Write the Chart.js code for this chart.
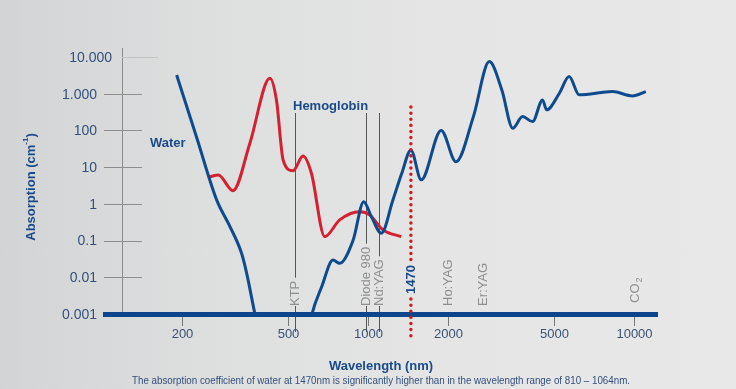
<!DOCTYPE html>
<html>
<head>
<meta charset="utf-8">
<script src="https://cdn.jsdelivr.net/npm/chart.js@4.4.1/dist/chart.umd.min.js"></script>
<style>
html, body { margin:0; padding:0; }
body { width:736px; height:389px; overflow:hidden;
  background: linear-gradient(90deg, #d3d4d5 0%, #dedfdf 30%, #e5e5e5 60%, #e8e8e8 100%); }
canvas { display:block; }
</style>
</head>
<body>
<canvas id="grafica" width="736" height="389"></canvas>
<script>
// datos (nm, cm-1)
var agua_nm  = [191, 227, 270, 303, 335, 350, 376, 395, 590, 616, 670, 739, 783, 880, 964, 1030, 1122, 1241, 1340, 1450, 1585, 1884, 2143, 2490, 2858, 3185, 3500, 3810, 4155, 4530, 4690, 5240, 5700, 6220, 8300, 9860, 11070]
var agua_abs = [3240, 65, 1.28, 0.24, 0.045, 0.013, 0.001, 0.0002, 0.0002, 0.001, 0.0055, 0.0295, 0.024, 0.104, 1.15, 0.45, 0.158, 1.28, 6.8, 29, 4.5, 100, 14, 238, 7500, 1265, 115, 238, 174, 676, 363, 1030, 2930, 930, 1140, 870, 1140]

var hemo_nm  = [255, 274, 311, 360, 428, 453, 480, 523, 570, 613, 688, 783, 931, 1014, 1138, 1334]
var hemo_abs = [5.5, 6.1, 2.29, 45, 2650, 676, 15.7, 8.0, 20, 6.8, 0.128, 0.365, 0.61, 0.5, 0.195, 0.128]

var x_ticks = [200, 500, 1000, 2000, 5000, 10000]
var x_labels = ["200", "500", "1000", "2000", "5000", "10000"]
var y_ticks = [0.001, 0.01, 0.1, 1, 10, 100, 1000, 10000]
var y_labels = ["0.001", "0.01", "0.1", "1", "10", "100", "1.000", "10.000"]

var laser_nm = [532, 980, 1100, 1450, 2000, 2700, 10100]
var laser_labels = ["KTP", "Diode 980", "Nd:YAG", "1470", "Ho:YAG", "Er:YAG", "CO"]

var azul = '#0d4a8e'
var rojo = '#d42030'
var fuente = "'Liberation Sans', Arial, sans-serif"

function puntos(xs, ys){
    var p = []
    for (var i = 0; i < xs.length; i++) p.push({x: xs[i], y: ys[i]})
    return p
}

var decoracion = {
    id: 'decoracion',
    beforeDatasetsDraw: function(chart){
        var ctx = chart.ctx
        var xs = chart.scales.x, ys = chart.scales.y
        var a = chart.chartArea
        ctx.save()
        // eje vertical
        ctx.strokeStyle = '#8a8a8a'
        ctx.lineWidth = 1
        ctx.beginPath()
        ctx.moveTo(a.left + 19.5, a.top)
        ctx.lineTo(a.left + 19.5, a.bottom)
        ctx.stroke()
        // marcas y etiquetas del eje y
        ctx.font = '14px ' + fuente
        ctx.fillStyle = '#34507c'
        ctx.textAlign = 'right'
        ctx.textBaseline = 'middle'
        for (var i = 0; i < y_ticks.length; i++){
            var py = Math.round(ys.getPixelForValue(y_ticks[i])) + 0.5
            if (i == 0) continue
            ctx.strokeStyle = '#8e8e8e'
            ctx.beginPath()
            if (i == y_ticks.length - 1){
                ctx.strokeStyle = '#c4c4c4'
                ctx.moveTo(a.left + 19, py); ctx.lineTo(a.left + 55, py)
            } else {
                ctx.moveTo(a.left + 1, py); ctx.lineTo(a.left + 39, py)
            }
            ctx.stroke()
        }
        for (var i = 0; i < y_ticks.length; i++){
            var py = ys.getPixelForValue(y_ticks[i])
            var lx = (i == y_ticks.length - 1) ? a.left + 9 : a.left - 6
            ctx.fillText(y_labels[i], lx, py + 1)
        }
        // lineas de los laser
        ctx.strokeStyle = '#555'
        ctx.lineWidth = 1
        ctx.font = '13px ' + fuente
        for (var i = 0; i < 3; i++){
            var px = Math.round(xs.getPixelForValue(laser_nm[i])) + 0.5
            var w = ctx.measureText(laser_labels[i]).width
            ctx.beginPath()
            ctx.moveTo(px, 113); ctx.lineTo(px, 305 - w - 2)
            ctx.moveTo(px, 306); ctx.lineTo(px, a.bottom + 18)
            ctx.stroke()
        }
        ctx.restore()
    },
    afterDatasetsDraw: function(chart){
        var ctx = chart.ctx
        var xs = chart.scales.x, ys = chart.scales.y
        var a = chart.chartArea
        ctx.save()
        // eje x grueso
        ctx.fillStyle = '#0b468c'
        ctx.fillRect(a.left, a.bottom - 2, a.right - a.left, 5)
        // marcas y etiquetas del eje x
        ctx.strokeStyle = '#777'
        ctx.lineWidth = 1
        ctx.font = '13px ' + fuente
        ctx.fillStyle = '#3b5275'
        ctx.textAlign = 'center'
        ctx.textBaseline = 'middle'
        for (var i = 0; i < x_ticks.length; i++){
            var px = Math.round(xs.getPixelForValue(x_ticks[i])) + 0.5
            ctx.beginPath()
            ctx.moveTo(px, a.bottom + 3); ctx.lineTo(px, a.bottom + 12)
            ctx.stroke()
            ctx.fillText(x_labels[i], px, a.bottom + 20)
        }
        // linea punteada 1470
        var p14 = xs.getPixelForValue(laser_nm[3])
        ctx.font = 'bold 13px ' + fuente
        var w14 = ctx.measureText(laser_labels[3]).width
        ctx.strokeStyle = '#cc1a22'
        ctx.lineWidth = 3.4
        ctx.lineCap = 'round'
        ctx.setLineDash([0.1, 6])
        ctx.beginPath()
        ctx.moveTo(p14, 107); ctx.lineTo(p14, 294 - w14 - 4)
        ctx.moveTo(p14, 299); ctx.lineTo(p14, a.bottom + 25)
        ctx.stroke()
        ctx.setLineDash([])
        // etiquetas rotadas
        for (var i = 0; i < laser_nm.length; i++){
            var px = xs.getPixelForValue(laser_nm[i])
            var base = 306
            ctx.save()
            if (i == 3){
                ctx.font = 'bold 13px ' + fuente
                ctx.fillStyle = '#1b4a8a'
                base = 294
            } else {
                ctx.font = '13px ' + fuente
                ctx.fillStyle = '#8e8e8e'
            }
            if (i == 6) base = 303
            ctx.translate(px + 0.5, base)
            ctx.rotate(-Math.PI / 2)
            ctx.textAlign = 'left'
            ctx.textBaseline = 'middle'
            ctx.fillText(laser_labels[i], 0, 0)
            if (i == 6){
                var wc = ctx.measureText('CO').width
                ctx.font = '9px ' + fuente
                ctx.fillText('2', wc + 1, 4)
            }
            ctx.restore()
        }
        // nombres de curvas
        ctx.font = 'bold 13px ' + fuente
        ctx.fillStyle = '#1b4a8a'
        ctx.textAlign = 'left'
        ctx.fillText('Water', 150, 143)
        ctx.fillText('Hemoglobin', 293, 106)
        // titulos
        ctx.textAlign = 'center'
        ctx.fillText('Wavelength (nm)', 381, 366)
        ctx.save()
        ctx.translate(31, 187)
        ctx.rotate(-Math.PI / 2)
        var tt = 'Absorption (cm'
        var w1 = ctx.measureText(tt).width
        var w2 = ctx.measureText(')').width
        ctx.font = 'bold 8px ' + fuente
        var ws = ctx.measureText('-1').width
        var total = w1 + ws + w2
        ctx.textAlign = 'left'
        ctx.font = 'bold 13px ' + fuente
        ctx.fillText(tt, -total / 2, 0)
        ctx.fillText(')', -total / 2 + w1 + ws, 0)
        ctx.font = 'bold 8px ' + fuente
        ctx.fillText('-1', -total / 2 + w1, -5)
        ctx.restore()
        // nota
        var nota = 'The absorption coefficient of water at 1470nm is significantly higher than in the wavelength range of 810 \u2013 1064nm.'
        ctx.font = '11px ' + fuente
        ctx.fillStyle = '#34507c'
        var wn = ctx.measureText(nota).width
        ctx.save()
        ctx.translate(381, 381)
        ctx.scale(498 / wn, 1)
        ctx.fillText(nota, 0, 0)
        ctx.restore()
        ctx.restore()
    }
}

new Chart(document.getElementById('grafica'), {
    type: 'line',
    data: {
        datasets: [
            {
                label: 'Water',
                data: puntos(agua_nm, agua_abs),
                borderColor: azul,
                borderWidth: 3,
                pointRadius: 0,
                cubicInterpolationMode: 'monotone',
                fill: false
            },
            {
                label: 'Hemoglobin',
                data: puntos(hemo_nm, hemo_abs),
                borderColor: rojo,
                borderWidth: 3,
                pointRadius: 0,
                cubicInterpolationMode: 'monotone',
                fill: false
            }
        ]
    },
    options: {
        responsive: false,
        animation: false,
        devicePixelRatio: 1,
        layout: { padding: { left: 103, right: 78, top: 48, bottom: 75 } },
        plugins: { legend: { display: false }, tooltip: { enabled: false } },
        scales: {
            x: { type: 'logarithmic', min: 101, max: 12300, display: false },
            y: { type: 'logarithmic', min: 0.001, max: 17580, display: false }
        }
    },
    plugins: [decoracion]
})
</script>
</body>
</html>
